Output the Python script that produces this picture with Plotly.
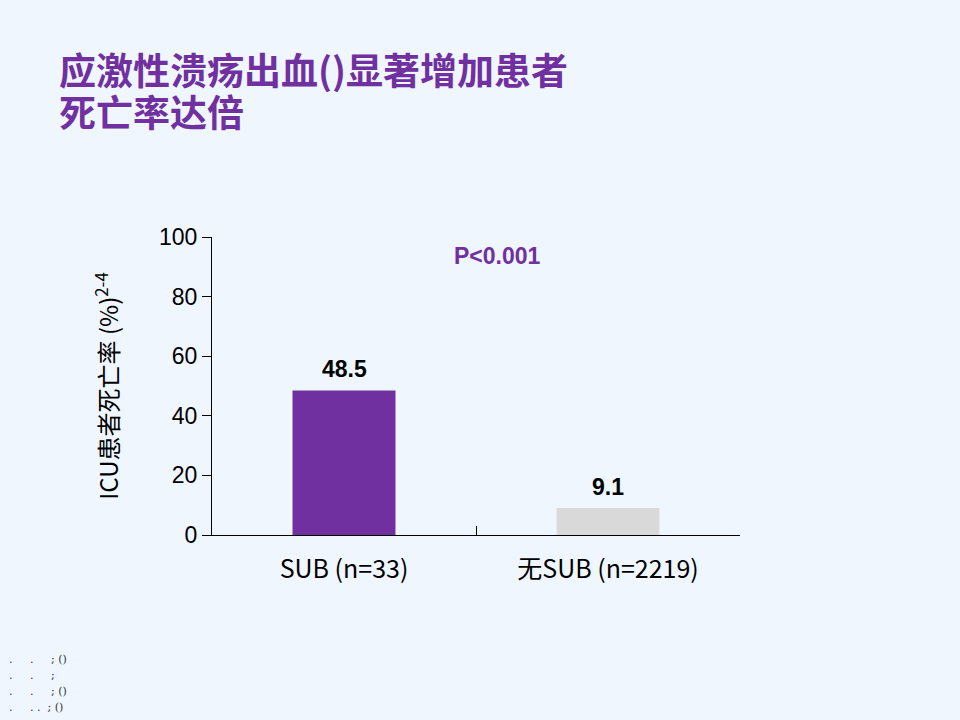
import plotly.graph_objects as go

categories = ["SUB (n=33)", "无SUB (n=2219)"]
mortality = [48.5, 9.1]
value_labels = ["48.5", "9.1"]
bar_colors = ["#7030A0", "#D9D9D9"]
y_ticks = [0, 20, 40, 60, 80, 100]

title_lines = ["应激性溃疡出血()显著增加患者", "死亡率达倍"]
footnotes = [".     .     ; ()", ".     .     ;", ".     .     ; ()", ".     . .  ; ()"]

bg = "#EFF6FE"
purple = "#7030A0"
cjk = "Noto Sans CJK SC"
latin = "Liberation Sans, Arial"

fig = go.Figure()
fig.add_trace(go.Bar(
    x=categories,
    y=mortality,
    marker_color=bar_colors,
    marker_line_width=0,
    width=0.39,
    hoverinfo="x+y",
))

# value labels above bars
for cat, val, lab in zip(categories, mortality, value_labels):
    fig.add_annotation(x=cat, y=val, text="<b>" + lab + "</b>", showarrow=False,
                       yanchor="bottom", yshift=6,
                       font=dict(family=latin, size=23, color="black"))

fig.add_annotation(x=0.58, y=93.6, xref="x", yref="y", text="<b>P<0.001</b>", showarrow=False,
                   font=dict(family=latin, size=23, color=purple))

# title, two lines
for i, line in enumerate(title_lines):
    fig.add_annotation(xref="paper", yref="paper", x=(57 - 212) / 528, y=1 + (237 - 69 - 42 * i) / 298,
                       xanchor="left", yanchor="middle", text="<b>" + line + "</b>", showarrow=False,
                       font=dict(family=cjk, size=37, color=purple))

# footnotes
for i, note in enumerate(footnotes):
    fig.add_annotation(xref="paper", yref="paper", x=(7 - 212) / 528, y=-(659 + 16 * i - 535) / 298,
                       xanchor="left", yanchor="middle", text=note, showarrow=False,
                       font=dict(family="DejaVu Serif", size=11, color="#333333"))

fig.update_layout(
    width=960, height=720,
    margin=dict(l=212, r=220, t=237, b=185),
    paper_bgcolor=bg, plot_bgcolor=bg,
    showlegend=False,
)
fig.update_yaxes(
    range=[0, 100], tickvals=y_ticks, showgrid=False, zeroline=False,
    showline=True, linecolor="black", linewidth=1,
    ticks="outside", ticklen=9, tickcolor="black",
    tickfont=dict(family=latin, size=23, color="black"),
    title=dict(text="ICU患者死亡率 (%)<sup>2-4</sup>", standoff=33,
               font=dict(family=cjk, size=24, color="black")),
)
fig.update_xaxes(
    showgrid=False, showline=True, linecolor="black", linewidth=1,
    ticks="inside", tickson="boundaries", ticklen=9, tickcolor="black",
    ticklabelstandoff=12,
    tickfont=dict(family=cjk, size=25, color="black"),
)

fig.write_html("out.html", config={"displayModeBar": False},
               post_script="document.body.style.margin='0';document.body.style.background='#EFF6FE';")
